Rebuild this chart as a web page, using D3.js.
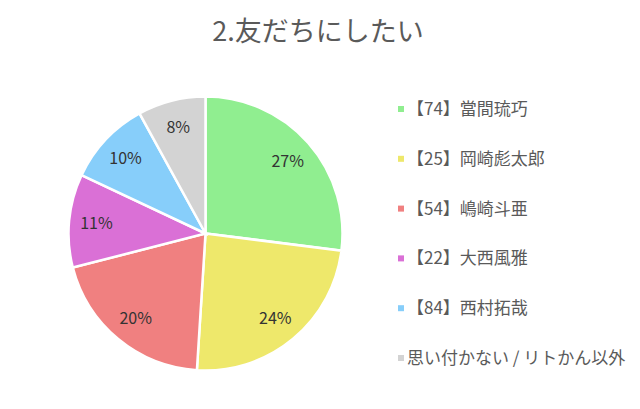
<!DOCTYPE html>
<html>
<head>
<meta charset="utf-8">
<script src="https://cdn.jsdelivr.net/npm/d3@7"></script>
<style>
  body { margin: 0; background: #fff; }
  text { font-family: "Noto Sans CJK JP", "Noto Sans", sans-serif; }
</style>
</head>
<body>
<script>
// Data
var names = ["【74】當間琉巧", "【25】岡崎彪太郎", "【54】嶋崎斗亜", "【22】大西風雅", "【84】西村拓哉", "思い付かない / リトかん以外"];
var percents = [27, 24, 20, 11, 10, 8];
var colors = ["#90ee90", "#eee86b", "#f08080", "#da70d6", "#87cefa", "#d3d3d3"];
var title = "2.友だちにしたい";

var width = 640;
var height = 409;
var radius = 137;

var svg = d3.select("body")
  .append("svg")
  .attr("width", width)
  .attr("height", height);

// Title
svg.append("text")
  .attr("x", 318)
  .attr("y", 41)
  .attr("text-anchor", "middle")
  .attr("font-size", 27)
  .attr("fill", "#5a5a5a")
  .text(title);

var g = svg.append("g")
  .attr("transform", "translate(205.5,233.5)");

var pie = d3.pie().sort(null).value(function (d) { return d; });
var arc = d3.arc().innerRadius(0).outerRadius(radius);
var labelArc = d3.arc().innerRadius(radius * 0.8).outerRadius(radius * 0.8);

var arcs = g.selectAll(".arc")
  .data(pie(percents))
  .enter()
  .append("g")
  .attr("class", "arc");

arcs.append("path")
  .attr("d", arc)
  .attr("fill", function (d, i) { return colors[i]; })
  .attr("stroke", "#fff")
  .attr("stroke-width", 2.5);

arcs.append("text")
  .attr("transform", function (d) { return "translate(" + labelArc.centroid(d) + ")"; })
  .attr("dy", "0.35em")
  .attr("text-anchor", "middle")
  .attr("font-size", 16)
  .attr("fill", "#333")
  .text(function (d) { return d.data + "%"; });

// Legend
var legendY = d3.scaleLinear().domain([0, 1]).range([109, 158.8]);

var legend = svg.selectAll(".legend")
  .data(names)
  .enter()
  .append("g")
  .attr("class", "legend")
  .attr("transform", function (d, i) { return "translate(398," + legendY(i) + ")"; });

legend.append("rect")
  .attr("x", 0)
  .attr("y", -3)
  .attr("width", 6)
  .attr("height", 6)
  .attr("fill", function (d, i) { return colors[i]; });

legend.append("text")
  .attr("x", 9)
  .attr("dy", "0.35em")
  .attr("font-size", 17)
  .attr("fill", "#5a5a5a")
  .text(function (d) { return d; });
</script>
</body>
</html>
